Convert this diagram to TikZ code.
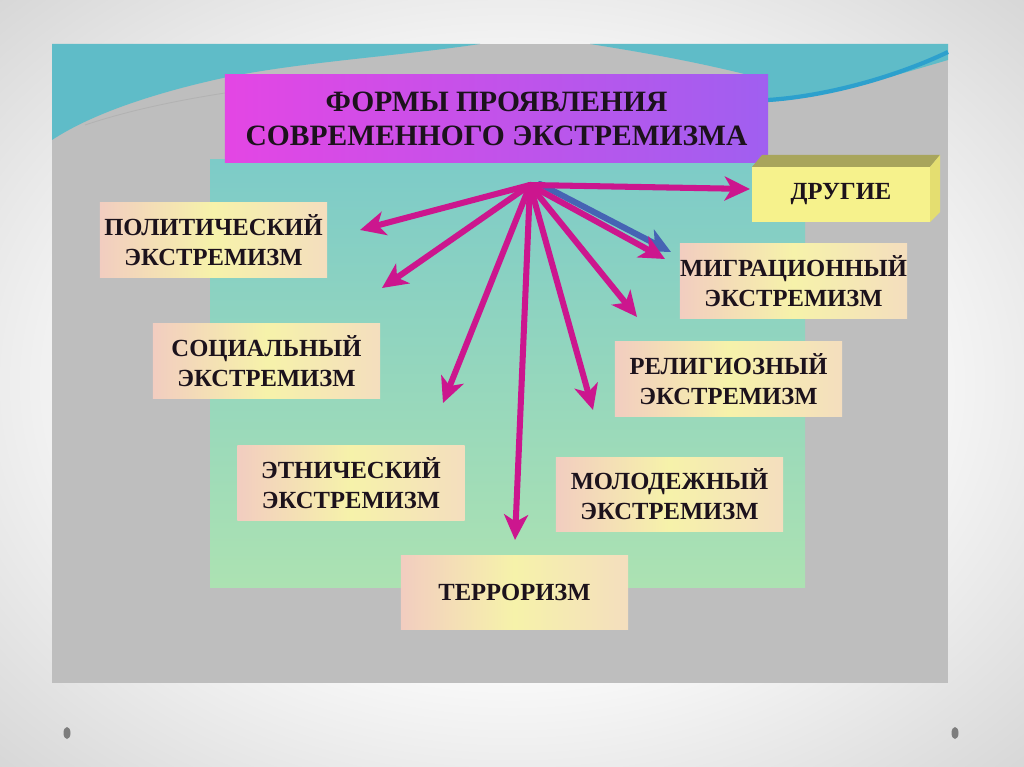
\documentclass[tikz,border=0pt]{standalone}
\usepackage{fontspec}
\setmainfont{Liberation Serif}
\usetikzlibrary{arrows.meta}
\definecolor{slideedge}{RGB}{214,214,214}
\definecolor{panelgray}{RGB}{190,190,190}
\definecolor{tealtop}{RGB}{95,188,200}
\definecolor{tealdark}{RGB}{45,160,205}
\definecolor{innertop}{RGB}{125,203,200}
\definecolor{innerbot}{RGB}{172,226,178}
\definecolor{titleL}{RGB}{228,70,228}
\definecolor{titleR}{RGB}{160,95,240}
\definecolor{lpink}{RGB}{242,205,192}
\definecolor{lyellow}{RGB}{246,242,170}
\definecolor{lpeach}{RGB}{244,222,190}
\definecolor{othfront}{RGB}{246,242,140}
\definecolor{othtop}{RGB}{168,165,92}
\definecolor{othside}{RGB}{228,222,112}
\definecolor{mag}{RGB}{204,22,142}
\definecolor{shadowblue}{RGB}{70,100,180}
\definecolor{txt}{RGB}{28,18,28}
\definecolor{dotgray}{RGB}{125,125,125}
\pgfdeclareradialshading{slidebg}{\pgfpoint{0bp}{0bp}}{color(0bp)=(white); color(16bp)=(white); color(36bp)=(slideedge); color(75bp)=(slideedge)}
\begin{document}
\begin{tikzpicture}[x=0.025cm,y=-0.025cm,
  lbl/.style={left color=lpink, right color=lpeach, middle color=lyellow,
    minimum width=5.675cm, minimum height=1.85cm, inner sep=0pt, outer sep=0pt,
    align=center, text=txt, font=\fontsize{17.5}{21.5}\selectfont\bfseries},
  titlebox/.style={left color=titleL, right color=titleR,
    minimum width=13.575cm, minimum height=2.175cm, inner sep=0pt, outer sep=0pt,
    align=center, text=txt, font=\fontsize{21}{24}\selectfont\bfseries},
  othbox/.style={fill=othfront, minimum width=4.45cm, minimum height=1.375cm,
    inner sep=0pt, outer sep=0pt, text=txt, font=\fontsize{17.5}{21}\selectfont\bfseries},
  arr/.style={draw=mag, line width=4.3pt, line cap=round,
    -{Stealth[length=18pt, width=17pt, inset=5pt]}},
  shadowarr/.style={draw=shadowblue, line width=4.3pt, line cap=round,
    -{Stealth[length=18pt, width=17pt, inset=5pt]}}]
% slide background
\useasboundingbox (0,0) rectangle (1024,767);
\shade[shading=slidebg] (0,0) rectangle (1024,767);
\fill[dotgray] (67,733) ellipse (3.5 and 6);
\fill[dotgray] (955,733) ellipse (3.5 and 6);
% textured panel
\fill[panelgray] (52,44) rectangle (948,683);
% teal swooshes
\fill[tealtop] (52,44) -- (480,44) .. controls (400,56) and (300,62) .. (223,78)
  .. controls (150,94) and (90,115) .. (52,140) -- cycle;
\fill[tealtop] (590,44) -- (948,44) -- (948,60) .. controls (880,80) and (820,98) .. (768,102)
  -- (768,80) .. controls (700,62) and (640,52) .. (590,44) -- cycle;
\draw[tealdark, line width=3pt] (768,100) .. controls (830,96) and (900,75) .. (948,52);
\draw[gray!60, line width=0.6pt] (85,125) .. controls (130,110) and (180,100) .. (225,93);
% inner panel
\shade[top color=innertop, bottom color=innerbot] (210,160) rectangle (805,587);
% title
\node[titlebox] (title) at (496.5,118.5) {ФОРМЫ ПРОЯВЛЕНИЯ\\СОВРЕМЕННОГО ЭКСТРЕМИЗМА};
% boxes
\node[lbl] (pol) at (213.5,240) {ПОЛИТИЧЕСКИЙ\\ЭКСТРЕМИЗМ};
\node[lbl] (soc) at (266.5,361) {СОЦИАЛЬНЫЙ\\ЭКСТРЕМИЗМ};
\node[lbl] (eth) at (351,483) {ЭТНИЧЕСКИЙ\\ЭКСТРЕМИЗМ};
\node[lbl] (ter) at (514.5,592.5) {ТЕРРОРИЗМ};
\node[lbl] (you) at (669.5,494.5) {МОЛОДЕЖНЫЙ\\ЭКСТРЕМИЗМ};
\node[lbl] (rel) at (728.5,379) {РЕЛИГИОЗНЫЙ\\ЭКСТРЕМИЗМ};
\node[lbl] (mig) at (793.5,281) {МИГРАЦИОННЫЙ\\ЭКСТРЕМИЗМ};
% 3D box
\node[othbox] (oth) at (841,194.5) {ДРУГИЕ};
\fill[othtop] (oth.north west) -- ++(10,-12) -- ++(178,0) -- (oth.north east) -- cycle;
\fill[othside] (oth.north east) -- ++(10,-12) -- ++(0,57) -- (oth.south east) -- cycle;
% arrows
\coordinate (hub) at (530,185);
\coordinate (hubs) at (540,184);
\coordinate (tpol) at (360,230);
\coordinate (tsoc) at (382,288);
\coordinate (teth) at (443,403);
\coordinate (tter) at (515,540);
\coordinate (tyou) at (593,410);
\coordinate (trel) at (637,317);
\coordinate (tmig) at (665,259);
\coordinate (tmigs) at (671,252);
\coordinate (toth) at (750,189);
\draw[shadowarr] (hubs) -- (tmigs);
\draw[arr] (hub) -- (tpol);
\draw[arr] (hub) -- (tsoc);
\draw[arr] (hub) -- (teth);
\draw[arr] (hub) -- (tter);
\draw[arr] (hub) -- (tyou);
\draw[arr] (hub) -- (trel);
\draw[arr] (hub) -- (tmig);
\draw[arr] (hub) -- (toth);
\end{tikzpicture}
\end{document}
